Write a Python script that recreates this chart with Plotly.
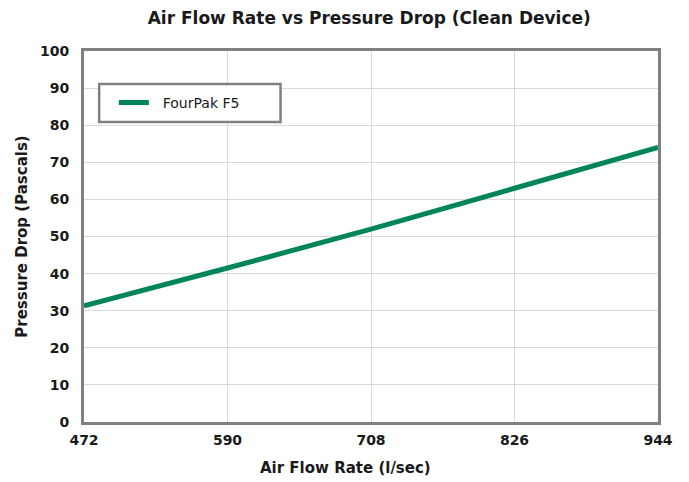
import plotly.graph_objects as go

airflow = [472, 590, 708, 826, 944]
pressure = [31.3, 41.5, 52.0, 63.0, 74.0]
series_name = "FourPak F5"
x_ticks = [472, 590, 708, 826, 944]
y_ticks = list(range(0, 101, 10))

fig = go.Figure()
fig.add_trace(go.Scatter(x=airflow, y=pressure, mode="lines", name="&nbsp;&nbsp;" + series_name,
                         line=dict(color="#00855A", width=5, shape="spline")))

font_fam = "'DejaVu Sans', sans-serif"
txt = "#1a1a1a"
fig.update_layout(
    width=689, height=482,
    margin=dict(l=71, r=39, t=43, b=68),
    paper_bgcolor="white", plot_bgcolor="white",
    title=dict(text="<b>Air Flow Rate vs Pressure Drop (Clean Device)</b>", xref="paper", x=0.497,
               xanchor="center", y=0.979, yanchor="middle",
               font=dict(family=font_fam, size=17, color=txt)),
    showlegend=True,
    legend=dict(x=0.052, y=0.86, xanchor="left", yanchor="middle", bgcolor="rgba(0,0,0,0)",
                borderwidth=0, font=dict(family=font_fam, size=14, color=txt), itemwidth=30),
    font=dict(family=font_fam, color=txt),
    shapes=[dict(type="rect", xref="paper", yref="paper", x0=0.0264, x1=0.3424, y0=0.8086, y1=0.911,
                 line=dict(color="#808080", width=2.5), fillcolor="white", layer="above")],
    annotations=[dict(text="<b>Air Flow Rate (l/sec)</b>", xref="paper", yref="paper",
                      x=(343 - 79) / 579, y=-(468 - 422) / 371, xanchor="center", yanchor="middle",
                      showarrow=False, font=dict(family=font_fam, size=15, color=txt))],
)
fig.update_xaxes(range=[472, 944], tickvals=x_ticks, ticktext=[f"<b>{v}</b>" for v in x_ticks],
                 showgrid=True, gridcolor="#d9d9d9", gridwidth=1, zeroline=False,
                 showline=True, linecolor="#808080", linewidth=3, mirror=True, ticks="",
                 tickfont=dict(size=14, color=txt), ticklabelstandoff=3)
fig.update_yaxes(range=[0, 100], tickvals=y_ticks, ticktext=[f"<b>{v}</b>" for v in y_ticks],
                 showgrid=True, gridcolor="#d9d9d9", gridwidth=1, zeroline=False,
                 showline=True, linecolor="#808080", linewidth=3, mirror=True, ticks="",
                 tickfont=dict(size=14, color=txt), ticklabelstandoff=9,
                 title=dict(text="<b>Pressure Drop (Pascals)</b>", font=dict(size=15, color=txt), standoff=9))
fig.write_html("out.html")
